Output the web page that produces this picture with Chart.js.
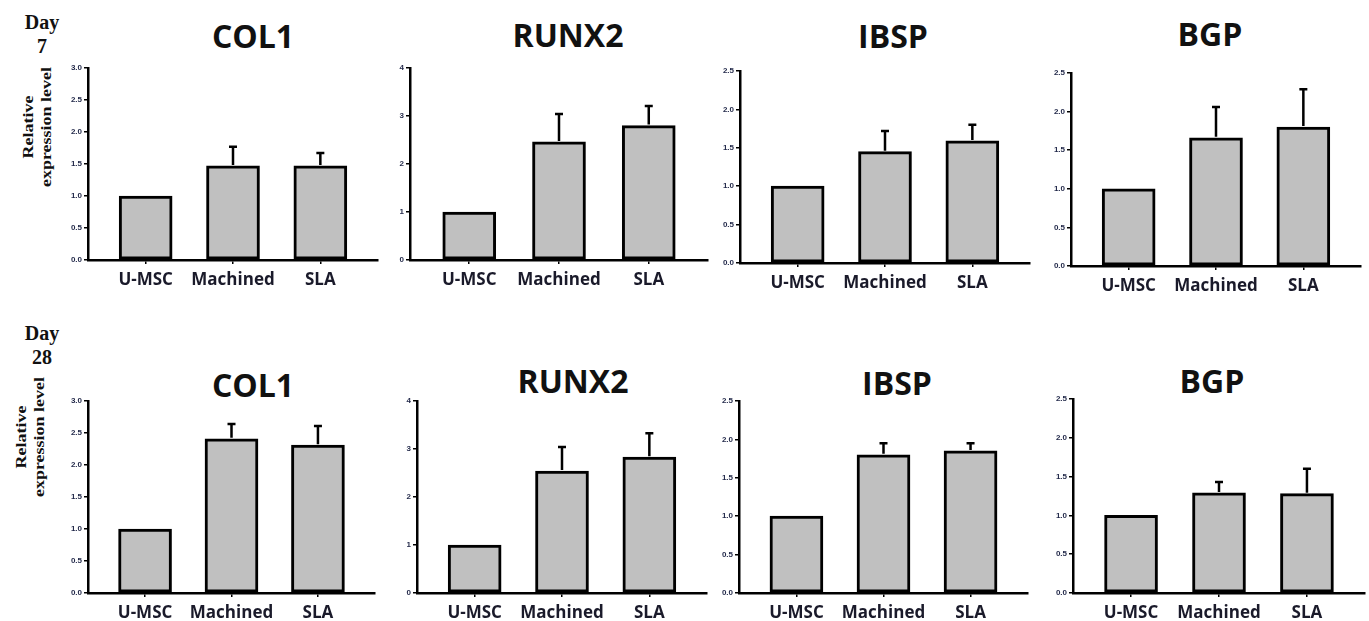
<!DOCTYPE html>
<html>
<head>
<meta charset="utf-8">
<title>Relative expression level</title>
<script src="https://cdn.jsdelivr.net/npm/chart.js@4.4.1/dist/chart.umd.min.js"></script>
<style>
  body { margin: 0; background: #fff; width: 1369px; height: 621px; position: relative; overflow: hidden; }
  canvas { position: absolute; }
  .title { position: absolute; font-family: "Open Sans", sans-serif; font-weight: 700; font-size: 32px; line-height: 1; color: #111; transform: translate(-50%, -50%); white-space: nowrap; }
  .day { position: absolute; width: 44px; font-family: "Liberation Serif", serif; font-weight: 700; font-size: 20px; line-height: 24px; text-align: center; color: #111; }
  .ytitle { position: absolute; font-family: "Liberation Serif", serif; font-weight: 700; font-size: 18px; line-height: 21px; text-align: center; color: #111; white-space: nowrap; transform: translate(-50%, -50%) rotate(-90deg) scaleY(0.85); }
</style>
</head>
<body>

<script>
// groups on the x axis
var groups = ['U-MSC', 'Machined', 'SLA'];
var genes = ['COL1', 'RUNX2', 'IBSP', 'BGP'];
var days = ['7', '28'];

// y axis per gene
var yMax = [3, 4, 2.5, 2.5];
var yStep = [0.5, 1, 0.5, 0.5];

// day 7 (mean, upper error)
var col1Day7 = [1.0, 1.47, 1.47];
var col1Day7Err = [0, 0.30, 0.20];
var runx2Day7 = [1.0, 2.46, 2.80];
var runx2Day7Err = [0, 0.58, 0.41];
var ibspDay7 = [1.0, 1.45, 1.59];
var ibspDay7Err = [0, 0.27, 0.21];
var bgpDay7 = [1.0, 1.66, 1.80];
var bgpDay7Err = [0, 0.40, 0.49];

// day 28
var col1Day28 = [1.0, 2.41, 2.31];
var col1Day28Err = [0, 0.23, 0.30];
var runx2Day28 = [1.0, 2.54, 2.83];
var runx2Day28Err = [0, 0.50, 0.50];
var ibspDay28 = [1.0, 1.80, 1.85];
var ibspDay28Err = [0, 0.15, 0.10];
var bgpDay28 = [1.0, 1.29, 1.28];
var bgpDay28Err = [0, 0.14, 0.32];

var values = [
  [col1Day7, runx2Day7, ibspDay7, bgpDay7],
  [col1Day28, runx2Day28, ibspDay28, bgpDay28]
];
var errors = [
  [col1Day7Err, runx2Day7Err, ibspDay7Err, bgpDay7Err],
  [col1Day28Err, runx2Day28Err, ibspDay28Err, bgpDay28Err]
];

// plot frames: y axis x, x axis end, top, bottom
var frames = [
  [[88, 378, 68, 260], [410, 708, 68, 260], [740, 1030, 71, 263], [1071, 1361, 73, 266]],
  [[88, 375, 401, 593], [417, 707, 401, 593], [739, 1028, 401, 593], [1073, 1365, 399, 593]]
];
var titlePos = [
  [[253, 36], [568, 35], [893, 36], [1210, 34]],
  [[253, 385], [573, 381], [897, 383], [1212, 381]]
];
var dayTop = [10, 321];
var yTitlePos = [[37, 127], [30, 437]];

var Y_W = 40, X_H = 40, PAD_T = 8, PAD_R = 4;

// upper error bars
var errorBars = {
  id: 'errorBars',
  afterDatasetsDraw: function(chart) {
    var ds = chart.data.datasets[0];
    var meta = chart.getDatasetMeta(0);
    var y = chart.scales.y;
    var c = chart.ctx;
    c.save();
    c.strokeStyle = '#000';
    c.lineWidth = 2.5;
    meta.data.forEach(function(bar, i) {
      if (!ds.errs[i]) return;
      var yTop = y.getPixelForValue(ds.raw[i] + ds.errs[i]);
      c.beginPath();
      c.moveTo(bar.x, bar.y - 1);
      c.lineTo(bar.x, yTop);
      c.moveTo(bar.x - 4, yTop);
      c.lineTo(bar.x + 4, yTop);
      c.stroke();
    });
    c.restore();
  }
};

function addText(cls, html, left, top) {
  var d = document.createElement('div');
  d.className = cls;
  d.innerHTML = html;
  d.style.left = left + 'px';
  d.style.top = top + 'px';
  document.body.appendChild(d);
}

days.forEach(function(day, r) {
  addText('day', 'Day<br>' + day, 20, dayTop[r]);
  addText('ytitle', 'Relative<br>expression level', yTitlePos[r][0], yTitlePos[r][1]);

  genes.forEach(function(gene, g) {
    var f = frames[r][g];
    addText('title', gene, titlePos[r][g][0], titlePos[r][g][1]);

    var cv = document.createElement('canvas');
    var w = f[1] - f[0] + Y_W + PAD_R;
    var h = f[3] - f[2] + PAD_T + X_H;
    cv.width = w; cv.height = h;
    cv.style.left = (f[0] - Y_W) + 'px';
    cv.style.top = (f[2] - PAD_T) + 'px';
    document.body.appendChild(cv);

    var vals = values[r][g];
    new Chart(cv.getContext('2d'), {
      type: 'bar',
      data: {
        datasets: [{
          data: vals.map(function(v, i) { return { x: i, y: v }; }),
          raw: vals,
          errs: errors[r][g],
          backgroundColor: '#c0c0c0',
          borderColor: '#000',
          borderWidth: 3,
          borderSkipped: false,
          barThickness: 53
        }]
      },
      options: {
        responsive: false,
        animation: false,
        layout: { padding: { top: PAD_T, right: PAD_R, left: 0, bottom: 0 } },
        plugins: { legend: { display: false }, tooltip: { enabled: false } },
        scales: {
          x: {
            type: 'linear',
            min: -0.66,
            max: 2.66,
            offset: false,
            afterBuildTicks: function(s) { s.ticks = groups.map(function(n, i) { return { value: i }; }); },
            afterFit: function(s) { s.height = X_H; },
            border: { color: '#000', width: 2.5 },
            grid: { offset: false, drawOnChartArea: false, color: '#000', lineWidth: 1.5, tickLength: 4 },
            ticks: {
              callback: function(v) { return groups[v]; },
              autoSkip: false,
              maxRotation: 0,
              padding: 6,
              color: '#1a1a2a',
              font: { family: 'Open Sans', size: 17, weight: '700' }
            }
          },
          y: {
            min: 0,
            max: yMax[g],
            afterFit: function(s) { s.width = Y_W; },
            border: { color: '#000', width: 2.5 },
            grid: { drawOnChartArea: false, color: '#000', lineWidth: 1.5, tickLength: 4 },
            ticks: {
              stepSize: yStep[g],
              callback: function(v) { return yStep[g] < 1 ? v.toFixed(1) : v.toFixed(0); },
              padding: 2,
              color: '#1f2647',
              font: { family: 'Liberation Sans', size: 8, weight: 'bold' }
            }
          }
        }
      },
      plugins: [errorBars]
    });
  });
});
</script>
</body>
</html>
